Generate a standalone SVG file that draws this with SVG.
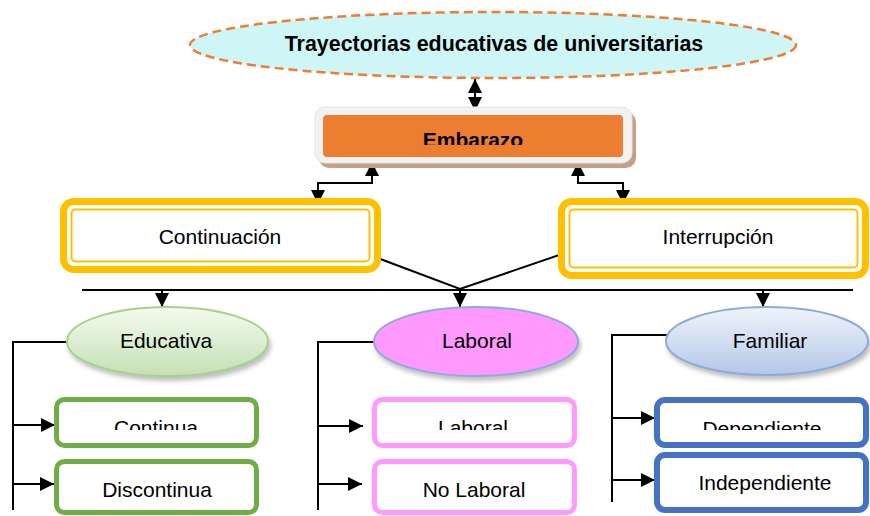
<svg xmlns="http://www.w3.org/2000/svg" width="870" height="516" viewBox="0 0 870 516">
<style>
text{font-family:"Liberation Sans",Arial,sans-serif;font-size:21px;fill:#000;text-anchor:middle}
.b{font-weight:bold}
.t{font-size:21.4px}
.ln{fill:none;stroke:#000;stroke-width:2}
.gold{fill:#ffc000}
.goldin{fill:#fff;stroke:#ffc000;stroke-width:2}
.g{fill:#fff;stroke:#70ad47;stroke-width:5}
.p{fill:#fff;stroke:#ff99ff;stroke-width:5}
.bl{fill:#fff;stroke:#4472c4;stroke-width:6}
</style>
<defs>
<marker id="ah" markerUnits="userSpaceOnUse" markerWidth="14" markerHeight="14" refX="14" refY="7" orient="auto-start-reverse">
<path d="M0,0 L14,7 L0,14 z" fill="#000"/>
</marker>
<linearGradient id="gGreen" x1="0" y1="0" x2="0" y2="1">
<stop offset="0" stop-color="#f4faf0"/><stop offset="1" stop-color="#c5e0b4"/>
</linearGradient>
<linearGradient id="gBlue" x1="0" y1="0" x2="0" y2="1">
<stop offset="0" stop-color="#f0f4fb"/><stop offset="1" stop-color="#b4c7e7"/>
</linearGradient>
<filter id="sh" x="-10%" y="-20%" width="130%" height="150%">
<feDropShadow dx="2" dy="4" stdDeviation="2" flood-color="#808080" flood-opacity="0.5"/>
</filter>
<clipPath id="cEmb"><rect x="320" y="110" width="310" height="35"/></clipPath>
<clipPath id="cRow"><rect x="0" y="405" width="870" height="25"/></clipPath>
</defs>

<g id="connectors">
<path class="ln" d="M475,79 V111" marker-start="url(#ah)" marker-end="url(#ah)"/>
<path class="ln" d="M372,162 V183 H318 V204" marker-start="url(#ah)" marker-end="url(#ah)"/>
<path class="ln" d="M578,162 V183 H623 V204" marker-start="url(#ah)" marker-end="url(#ah)"/>
<path class="ln" d="M375,257 L460,289 L565,253"/>
<path class="ln" d="M82,290 H853"/>
<path class="ln" d="M162,290 V307" marker-end="url(#ah)"/>
<path class="ln" d="M460,290 V307" marker-end="url(#ah)"/>
<path class="ln" d="M763,290 V307" marker-end="url(#ah)"/>
<path class="ln" d="M67,342 H13 V510"/>
<path class="ln" d="M13,425 H55" marker-end="url(#ah)"/>
<path class="ln" d="M13,484 H54" marker-end="url(#ah)"/>
<path class="ln" d="M374,342 H318 V510"/>
<path class="ln" d="M318,426 H363" marker-end="url(#ah)"/>
<path class="ln" d="M318,484 H362" marker-end="url(#ah)"/>
<path class="ln" d="M668,335 H612 V502"/>
<path class="ln" d="M612,418 H655" marker-end="url(#ah)"/>
<path class="ln" d="M612,480 H655" marker-end="url(#ah)"/>
</g>

<g id="titulo">
<ellipse cx="493" cy="45" rx="303" ry="33" fill="#cff6f6" stroke="#ed7d31" stroke-width="2.5" stroke-dasharray="9,5"/>
<text class="b t" x="494" y="51">Trayectorias educativas de universitarias</text>
</g>

<g id="embarazo">
<rect x="319" y="112" width="317" height="56" rx="10" fill="#c4a088"/>
<rect x="315" y="107" width="317" height="56" rx="10" fill="#f2f2f2" stroke="#e4e4e4" stroke-width="1"/>
<rect x="323" y="115" width="300" height="42" rx="4" fill="#ed7d31"/>
<text class="b" x="473" y="147" clip-path="url(#cEmb)">Embarazo</text>
</g>

<g id="continuacion">
<rect class="gold" x="60" y="198" width="321" height="75" rx="14"/>
<rect x="67" y="205" width="307" height="61" rx="7" fill="#fff"/>
<rect class="goldin" x="71.5" y="209.5" width="298" height="52" rx="4"/>
<text x="220" y="244">Continuación</text>
</g>

<g id="interrupcion">
<rect class="gold" x="558" y="198" width="311" height="81" rx="14"/>
<rect x="565" y="205" width="297" height="67" rx="7" fill="#fff"/>
<rect class="goldin" x="569.5" y="209.5" width="288" height="58" rx="4"/>
<text x="718" y="244">Interrupción</text>
</g>

<g id="educativa">
<ellipse cx="167.5" cy="341.5" rx="100.5" ry="34.5" fill="url(#gGreen)" stroke="#a9d18e" stroke-width="2" filter="url(#sh)"/>
<text x="166" y="348">Educativa</text>
</g>

<g id="laboral">
<ellipse cx="476" cy="341.5" rx="102" ry="34.5" fill="#ff99ff" stroke="#8eaadb" stroke-width="2" filter="url(#sh)"/>
<text x="477" y="348">Laboral</text>
</g>

<g id="familiar">
<ellipse cx="767" cy="341" rx="101" ry="34" fill="url(#gBlue)" stroke="#8eaadb" stroke-width="2" filter="url(#sh)"/>
<text x="770" y="348">Familiar</text>
</g>

<g id="continua">
<rect class="g" x="56.5" y="399.5" width="200" height="46" rx="8"/>
<text x="156" y="435" clip-path="url(#cRow)">Continua</text>
</g>

<g id="discontinua">
<rect class="g" x="56.5" y="461.5" width="200" height="51" rx="8"/>
<text x="157" y="497">Discontinua</text>
</g>

<g id="laboral2">
<rect class="p" x="374.5" y="399.5" width="200" height="46" rx="8"/>
<text x="473" y="435" clip-path="url(#cRow)">Laboral</text>
</g>

<g id="nolaboral">
<rect class="p" x="374.5" y="461.5" width="200" height="51" rx="8"/>
<text x="474" y="497">No Laboral</text>
</g>

<g id="dependiente">
<rect class="bl" x="657" y="400" width="209" height="45" rx="8"/>
<text x="762" y="436" clip-path="url(#cRow)">Dependiente</text>
</g>

<g id="independiente">
<rect class="bl" x="657" y="455" width="209" height="55" rx="8"/>
<text x="765" y="490">Independiente</text>
</g>
</svg>
